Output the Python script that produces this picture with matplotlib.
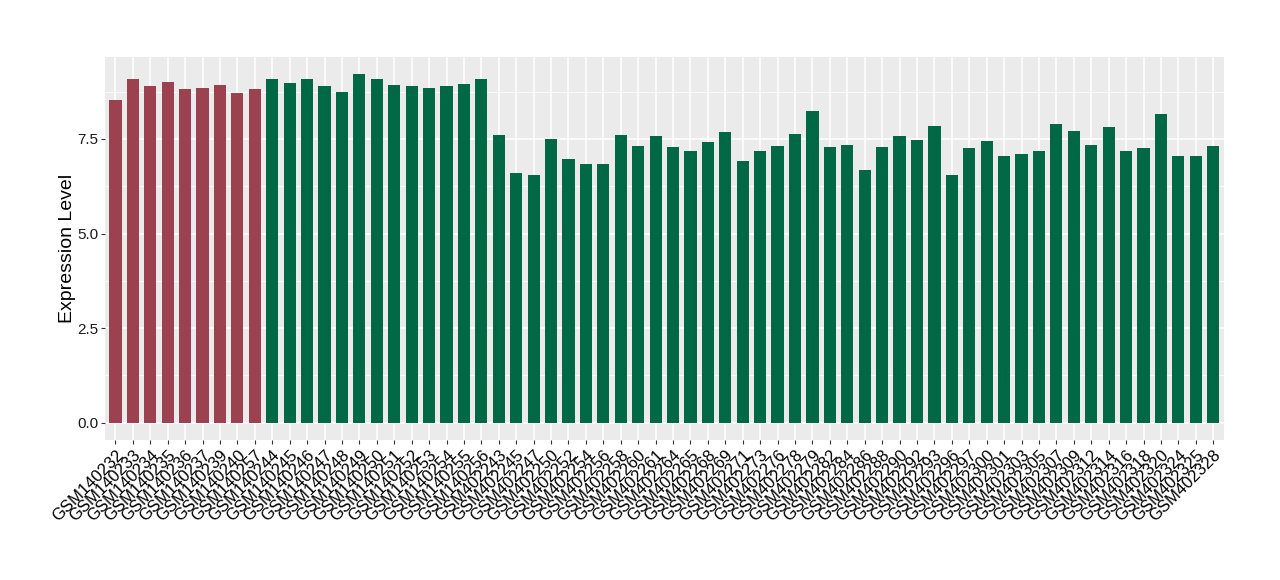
import matplotlib
matplotlib.use("Agg")
import matplotlib.pyplot as plt
from matplotlib.ticker import MultipleLocator

plt.rcParams['font.family'] = ['Liberation Sans', 'DejaVu Sans']

red_samples = ["GSM140232", "GSM140233", "GSM140234", "GSM140235", "GSM140236",
               "GSM140237", "GSM140239", "GSM140240", "GSM140257"]
red_values = [8.53, 9.08, 8.90, 9.00, 8.82, 8.85, 8.92, 8.71, 8.82]

green_samples = ["GSM140244", "GSM140245", "GSM140246", "GSM140247", "GSM140248",
                 "GSM140249", "GSM140250", "GSM140251", "GSM140252", "GSM140253",
                 "GSM140254", "GSM140255", "GSM140256",
                 "GSM402243", "GSM402245", "GSM402247", "GSM402250", "GSM402252",
                 "GSM402254", "GSM402256", "GSM402258", "GSM402260", "GSM402261",
                 "GSM402264", "GSM402265", "GSM402268", "GSM402269", "GSM402271",
                 "GSM402273", "GSM402276", "GSM402278", "GSM402279", "GSM402282",
                 "GSM402284", "GSM402286", "GSM402288", "GSM402290", "GSM402292",
                 "GSM402293", "GSM402296", "GSM402297", "GSM402300", "GSM402301",
                 "GSM402303", "GSM402305", "GSM402307", "GSM402309", "GSM402312",
                 "GSM402314", "GSM402316", "GSM402318", "GSM402320", "GSM402324",
                 "GSM402325", "GSM402328"]
green_values = [9.08, 8.98, 9.08, 8.90, 8.74, 9.21, 9.08, 8.92, 8.90, 8.85,
                8.90, 8.95, 9.08,
                7.61, 6.61, 6.54, 7.51, 6.98, 6.85, 6.85, 7.61, 7.32, 7.58,
                7.30, 7.17, 7.43, 7.69, 6.93, 7.17, 7.32, 7.64, 8.24, 7.30,
                7.35, 6.69, 7.30, 7.58, 7.48, 7.85, 6.56, 7.27, 7.45, 7.06,
                7.09, 7.19, 7.90, 7.72, 7.35, 7.82, 7.19, 7.27, 8.16, 7.06,
                7.06, 7.32]

red_color = "#9B4150"
green_color = "#006845"

samples = red_samples + green_samples
values = red_values + green_values
colors = [red_color] * len(red_samples) + [green_color] * len(green_samples)
n = len(samples)
x = list(range(n))

fig = plt.figure(figsize=(12.8, 5.8), dpi=100)
ax = fig.add_axes([0.082, 0.241, 0.874, 0.661])
ax.set_facecolor("#EBEBEB")
ax.set_axisbelow(True)

ax.bar(x, values, width=0.7, color=colors, zorder=3)

vmax = max(values)
pad = 0.05 * vmax
ax.set_ylim(-pad, vmax + pad)
ax.set_xlim(-0.6, n - 1 + 0.6)

ax.yaxis.set_minor_locator(MultipleLocator(1.25))
ax.set_yticks([0, 2.5, 5.0, 7.5])
ax.set_yticklabels(["0.0", "2.5", "5.0", "7.5"], fontsize=11, color="#1a1a1a")
ax.grid(which="major", color="white", linewidth=1.1, zorder=0)
ax.grid(which="minor", axis="y", color="white", linewidth=0.55, zorder=0)

ax.set_xticks(x)
ax.set_xticklabels(samples, rotation=45, ha="right", va="top",
                   rotation_mode="anchor", fontsize=12, color="black")
ax.tick_params(axis="both", which="major", length=3, color="#333333", pad=2)
ax.tick_params(axis="y", which="minor", length=0)
for s in ax.spines.values():
    s.set_visible(False)

ax.set_ylabel("Expression Level", fontsize=14, labelpad=1)

fig.savefig("out.png", dpi=100)
